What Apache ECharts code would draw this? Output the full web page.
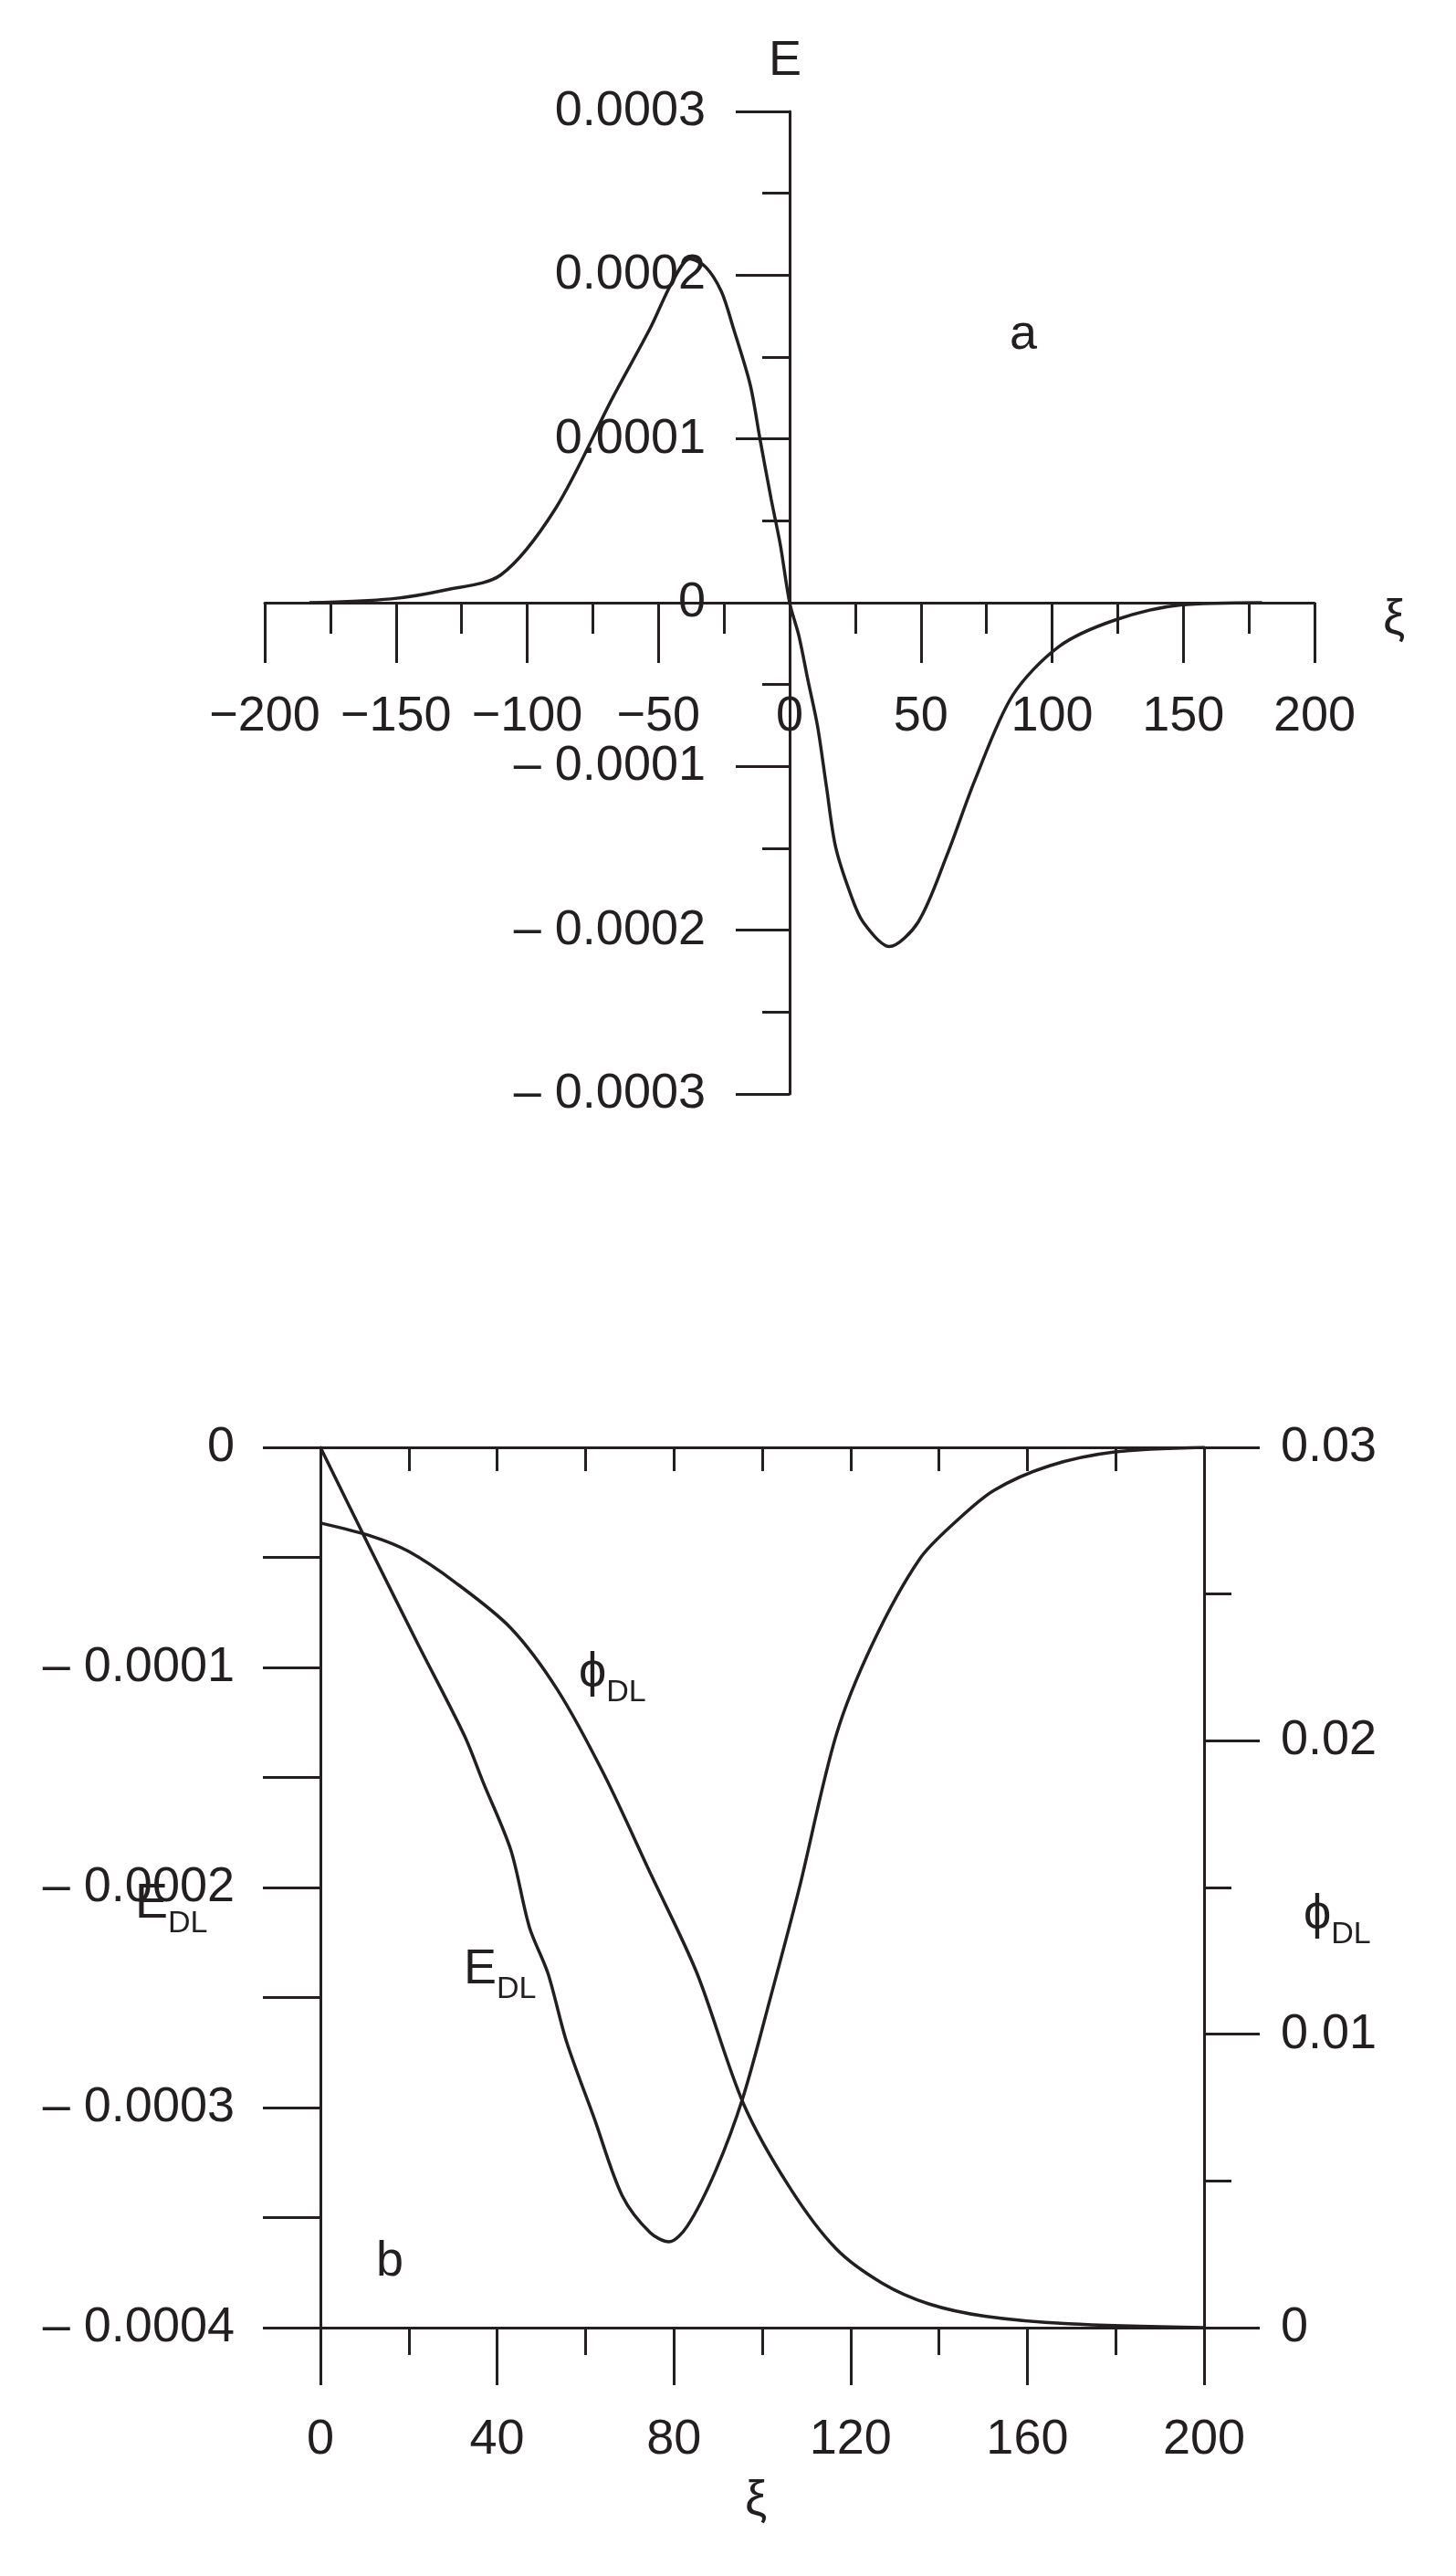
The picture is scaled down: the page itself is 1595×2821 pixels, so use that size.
<!DOCTYPE html>
<html>
<head>
<meta charset="utf-8">
<script src="https://cdn.jsdelivr.net/npm/echarts@6/dist/echarts.min.js"></script>
<style>html,body{margin:0;padding:0;background:#fff}#chart{width:1595px;height:2821px}</style>
</head>
<body>
<div id="chart"></div>
<script>
// panel a: E(xi)
const xiA = [-183, -152, -131, -110, -89, -67.5, -53, -45, -38, -32, -26, -21.5, -15, -11.3, -7, -3.5, 0,
  3.5, 7, 10.6, 14, 17.5, 23, 28, 38, 49, 60, 70.7, 84.9, 102.6, 124, 149, 180];
const eA = [0, 0.0000023, 0.0000078, 0.000017, 0.000058, 0.000125, 0.000168, 0.000195, 0.00021, 0.000205, 0.00019, 0.000168, 0.000133, 0.0001, 0.000063, 0.000035, 0,
  -0.00002, -0.0000475, -0.000075, -0.000112, -0.000149, -0.000177, -0.000195, -0.00021, -0.000195, -0.000154, -0.000108, -0.0000568, -0.0000268, -0.0000106, -0.0000014, 0];

// panel b: E_DL and phi_DL
const xiE = [0, 11.6, 22, 32.6, 36.8, 43.1, 47.3, 51.5, 55.7, 62, 68.3, 74.7, 78.9, 83, 89.4, 95.7, 102, 108.3, 116.7, 125, 135.6, 144, 152.5, 165, 179.8, 200];
const eDL = [0, -0.0000473, -0.0000891, -0.000131, -0.000152, -0.000183, -0.000218, -0.000239, -0.00027, -0.000305, -0.00034, -0.000357, -0.000361, -0.000354, -0.000329, -0.000295, -0.000249, -0.000201, -0.000131, -0.0000891, -0.0000508, -0.0000334, -0.0000195, -0.0000084, -0.0000021, 0];
const xiPhi = [0, 11.6, 20, 30.5, 43.1, 53.6, 64.1, 74.7, 85.2, 95.7, 106.2, 116.7, 127.2, 137.7, 150.4, 169.3, 200];
const phiDL = [0.02742, 0.02697, 0.02645, 0.0254, 0.02384, 0.02175, 0.01888, 0.01548, 0.01209, 0.00765, 0.00478, 0.00269, 0.00151, 0.00081, 0.00039, 0.00013, 0];

const FONT = 'Liberation Sans';
const INK = '#231f20';
const lbl = { fontFamily: FONT, fontSize: 54, color: INK };
const line = { onZero: false, lineStyle: { color: INK, width: 3 } };
const fmtSmall = v => v === 0 ? '0' : (v < 0 ? '– ' + (-v).toFixed(4) : v.toFixed(4));
const pairs = (xs, ys) => xs.map((x, i) => [x, ys[i]]);
const tk = len => ({ length: len, lineStyle: { color: INK, width: 3 } });

const chart = echarts.init(document.getElementById('chart'));
const sub = { fontFamily: FONT, fontSize: 34, color: INK, verticalAlign: 'bottom', padding: [0, 0, -12, 0] };
const txt = (left, top, text, rich) => ({
  type: 'text', left, top,
  style: { text, rich, fontFamily: FONT, fontSize: 54, fill: INK }
});

chart.setOption({
  backgroundColor: '#fff',
  animation: false,
  grid: [
    { left: 290, right: 155, top: 122, height: 1076 },
    { left: 351, right: 276, top: 1585, height: 964 }
  ],
  xAxis: [
    { gridIndex: 0, type: 'value', min: -200, max: 200, interval: 50, offset: -538,
      axisLine: line, splitLine: { show: false },
      axisTick: tk(66),
      minorTick: Object.assign({ show: true, splitNumber: 2 }, tk(34)),
      axisLabel: Object.assign({ margin: 98, formatter: v => v < 0 ? '−' + (-v) : '' + v }, lbl) },
    { gridIndex: 1, type: 'value', min: 0, max: 200, interval: 40, position: 'bottom',
      axisLine: line, splitLine: { show: false },
      axisTick: tk(63),
      minorTick: Object.assign({ show: true, splitNumber: 2 }, tk(30)),
      axisLabel: Object.assign({ margin: 96 }, lbl) },
    { gridIndex: 1, type: 'value', min: 0, max: 200, interval: 20, position: 'top',
      axisLine: line, splitLine: { show: false },
      axisTick: Object.assign({ inside: true }, tk(26)),
      axisLabel: { show: false } }
  ],
  yAxis: [
    { gridIndex: 0, type: 'value', min: -0.0003, max: 0.0003, interval: 0.0001, offset: -575,
      axisLine: line, splitLine: { show: false },
      axisTick: tk(59),
      minorTick: Object.assign({ show: true, splitNumber: 2 }, tk(30)),
      axisLabel: Object.assign({ margin: 92, formatter: fmtSmall }, lbl) },
    { gridIndex: 1, type: 'value', min: -0.0004, max: 0, interval: 0.0001, position: 'left',
      axisLine: line, splitLine: { show: false },
      axisTick: tk(63),
      minorTick: Object.assign({ show: true, splitNumber: 2 }, tk(63)),
      axisLabel: Object.assign({ margin: 94, formatter: fmtSmall }, lbl) },
    { gridIndex: 1, type: 'value', min: 0, max: 0.03, interval: 0.01, position: 'right',
      axisLine: line, splitLine: { show: false },
      axisTick: tk(61),
      minorTick: Object.assign({ show: true, splitNumber: 2 }, tk(30)),
      axisLabel: Object.assign({ margin: 84, formatter: v => v === 0 ? '0' : v.toFixed(2) }, lbl) }
  ],
  series: [
    { type: 'line', xAxisIndex: 0, yAxisIndex: 0, data: pairs(xiA, eA), smooth: 0.3, symbol: 'none',
      lineStyle: { color: INK, width: 3.5 } },
    { type: 'line', xAxisIndex: 1, yAxisIndex: 1, data: pairs(xiE, eDL), smooth: 0.3, symbol: 'none',
      lineStyle: { color: INK, width: 3.5 } },
    { type: 'line', xAxisIndex: 1, yAxisIndex: 2, data: pairs(xiPhi, phiDL), smooth: 0.3, symbol: 'none',
      lineStyle: { color: INK, width: 3.5 } }
  ],
  graphic: [
    txt(842, 40, 'E'),
    txt(1515, 652, 'ξ'),
    txt(1106, 340, 'a'),
    txt(412, 2450, 'b'),
    txt(816, 2712, 'ξ'),
    txt(148, 2058, 'E{s|DL}', { s: sub }),
    txt(508, 2130, 'E{s|DL}', { s: sub }),
    txt(634, 1805, 'ϕ{s|DL}', { s: sub }),
    txt(1428, 2070, 'ϕ{s|DL}', { s: sub })
  ]
});
</script>
</body>
</html>
